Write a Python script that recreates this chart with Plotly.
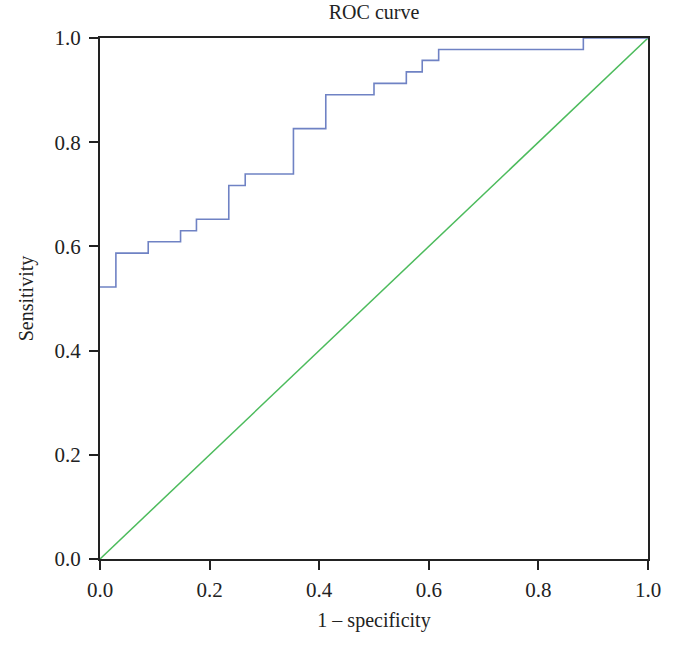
import plotly.graph_objects as go

# ROC step points (1 - specificity, sensitivity)
fpr = [0.0, 0.029, 0.088, 0.147, 0.176, 0.235, 0.265, 0.353, 0.412,
       0.500, 0.559, 0.588, 0.618, 0.882, 1.0]
tpr = [0.522, 0.587, 0.609, 0.630, 0.652, 0.717, 0.739, 0.826, 0.891,
       0.913, 0.935, 0.957, 0.978, 1.0, 1.0]
ref_x = [0.0, 1.0]
ref_y = [0.0, 1.0]
tick_vals = [0.0, 0.2, 0.4, 0.6, 0.8, 1.0]
tick_text = ["0.0", "0.2", "0.4", "0.6", "0.8", "1.0"]

FONT = "Liberation Serif"
INK = "#222222"

fig = go.Figure()
fig.add_trace(go.Scatter(x=ref_x, y=ref_y, mode="lines",
                         line=dict(color="#4cbb5c", width=1.5),
                         hoverinfo="skip", showlegend=False))
fig.add_trace(go.Scatter(x=fpr, y=tpr, mode="lines", line_shape="hv",
                         line=dict(color="#6f82c4", width=1.6),
                         showlegend=False))

axis_common = dict(
    range=[0, 1], showgrid=False, zeroline=False, showline=True,
    linecolor=INK, linewidth=2, mirror=True,
    ticks="outside", ticklen=9, tickwidth=1.5, tickcolor=INK,
    tickvals=tick_vals, ticktext=tick_text,
    tickfont=dict(family=FONT, size=21, color=INK),
    layer="above traces",
)

fig.update_layout(
    width=674, height=645,
    margin=dict(l=100, r=26, t=38, b=86),
    plot_bgcolor="white", paper_bgcolor="white",
    font=dict(family=FONT, size=20, color=INK),
    title=dict(text="ROC curve", x=0.555, xanchor="center", y=0.982, yanchor="middle",
               font=dict(family=FONT, size=20, color=INK)),
    xaxis=dict(**axis_common,
               title=dict(text="1 – specificity", standoff=12,
                          font=dict(family=FONT, size=20, color=INK)),
               ticklabelstandoff=2),
    yaxis=dict(**axis_common,
               title=dict(text="Sensitivity", standoff=16,
                          font=dict(family=FONT, size=20, color=INK)),
               ticklabelstandoff=4),
)

fig.write_html("out.html", config={"displayModeBar": False},
               post_script="document.body.style.margin='0';")
